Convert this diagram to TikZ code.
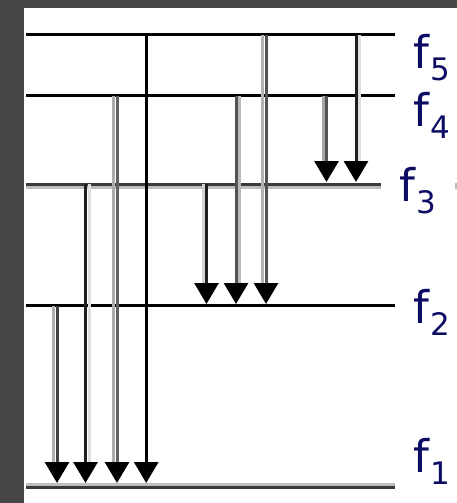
\documentclass[tikz,border=0pt]{standalone}
\usepackage{fontspec}
\setmainfont{DejaVu Sans}
\usetikzlibrary{arrows.meta}
\definecolor{bgframe}{RGB}{70,70,70}
\definecolor{navy}{RGB}{12,12,100}
\definecolor{lvdark}{RGB}{58,58,58}
\definecolor{lvlight}{RGB}{190,190,190}
\begin{document}
\begin{tikzpicture}[x=1pt,y=-1pt,
  level/.style={line width=3.3pt,draw=black},
  trans/.style={line width=3pt,draw=#1,-{Triangle[width=24pt,length=21pt,color=black]}},
  shade/.style={line width=3pt,draw=#1,shorten >=21pt},
  lab/.style={anchor=base west,inner sep=0pt,text=navy,font=\fontsize{45}{45}\selectfont}
]
\useasboundingbox (0,0) rectangle (457,503);
\fill[bgframe] (0,0) rectangle (457,503);
\fill[white] (24,8) rectangle (457,503);
\fill[gray!55] (455,183) rectangle (457,189);

% energy levels
\coordinate (L5a) at (26,34.7);  \coordinate (L5b) at (395,34.7);
\coordinate (L4a) at (26,95.7);  \coordinate (L4b) at (395,95.7);
\coordinate (L3a) at (26,184.3); \coordinate (L3b) at (381,184.3);
\coordinate (L3c) at (26,187.8); \coordinate (L3d) at (381,187.8);
\coordinate (L2a) at (26,305.5); \coordinate (L2b) at (395,305.5);
\coordinate (L1a) at (26,484.6); \coordinate (L1b) at (395,484.6);
\coordinate (L1c) at (26,487.4); \coordinate (L1d) at (395,487.4);

\draw[level] (L5a) -- (L5b);
\draw[level] (L4a) -- (L4b);
\draw[level,draw=lvlight] (L3c) -- (L3d);
\draw[level,draw=lvdark] (L3a) -- (L3b);
\draw[level] (L2a) -- (L2b);
\draw[level,draw=lvlight] (L1a) -- (L1b);
\draw[level,draw=lvdark] (L1c) -- (L1d);

% transition end points
\coordinate (a1t) at (57,305.5);   \coordinate (a1b) at (57,483);
\coordinate (a2t) at (85.5,184.3); \coordinate (a2b) at (85.5,483);
\coordinate (a3t) at (117,95.7);   \coordinate (a3b) at (117,483);
\coordinate (a4t) at (146.2,34.7); \coordinate (a4b) at (146.2,483);
\coordinate (a5t) at (206.5,184.3);\coordinate (a5b) at (206.5,304);
\coordinate (a6t) at (236,95.7);   \coordinate (a6b) at (236,304);
\coordinate (a7t) at (266,34.7);   \coordinate (a7b) at (266,304);
\coordinate (a8t) at (326.5,95.7); \coordinate (a8b) at (326.5,182);
\coordinate (a9t) at (356,34.7);   \coordinate (a9b) at (356,182);

% shadows
\draw[shade=gray!62,transform canvas={xshift=-3.5pt}] (a1t) -- (a1b);
\draw[shade=gray!25,transform canvas={xshift=3.5pt}] (a2t) -- (a2b);
\draw[shade=gray!65,transform canvas={xshift=-3.5pt}] (a3t) -- (a3b);
\draw[shade=gray!35,transform canvas={xshift=-3pt}] (a5t) -- (a5b);
\draw[shade=gray!55,transform canvas={xshift=3.5pt}] (a6t) -- (a6b);
\draw[shade=gray!60,transform canvas={xshift=-3.5pt}] (a7t) -- (a7b);
\draw[shade=gray!70,transform canvas={xshift=-3.5pt}] (a8t) -- (a8b);
\draw[shade=gray!25,transform canvas={xshift=3.5pt}] (a9t) -- (a9b);

% transitions
\draw[trans=black!75] (a1t) -- (a1b);
\draw[trans=black!88] (a2t) -- (a2b);
\draw[trans=black!62] (a3t) -- (a3b);
\draw[trans=black] (a4t) -- (a4b);
\draw[trans=black!88] (a5t) -- (a5b);
\draw[trans=black!68] (a6t) -- (a6b);
\draw[trans=black!68] (a7t) -- (a7b);
\draw[trans=black!68] (a8t) -- (a8b);
\draw[trans=black!88] (a9t) -- (a9b);

% labels
\node[lab] (f5) at (413,68) {f\kern1pt\raisebox{-12pt}{\fontsize{31}{31}\selectfont 5}};
\node[lab] (f4) at (413,126) {f\kern1pt\raisebox{-12pt}{\fontsize{31}{31}\selectfont 4}};
\node[lab] (f3) at (399,201) {f\kern1pt\raisebox{-12pt}{\fontsize{31}{31}\selectfont 3}};
\node[lab] (f2) at (413,323) {f\kern1pt\raisebox{-12pt}{\fontsize{31}{31}\selectfont 2}};
\node[lab] (f1) at (413,472) {f\kern1pt\raisebox{-12pt}{\fontsize{31}{31}\selectfont 1}};
\end{tikzpicture}
\end{document}
